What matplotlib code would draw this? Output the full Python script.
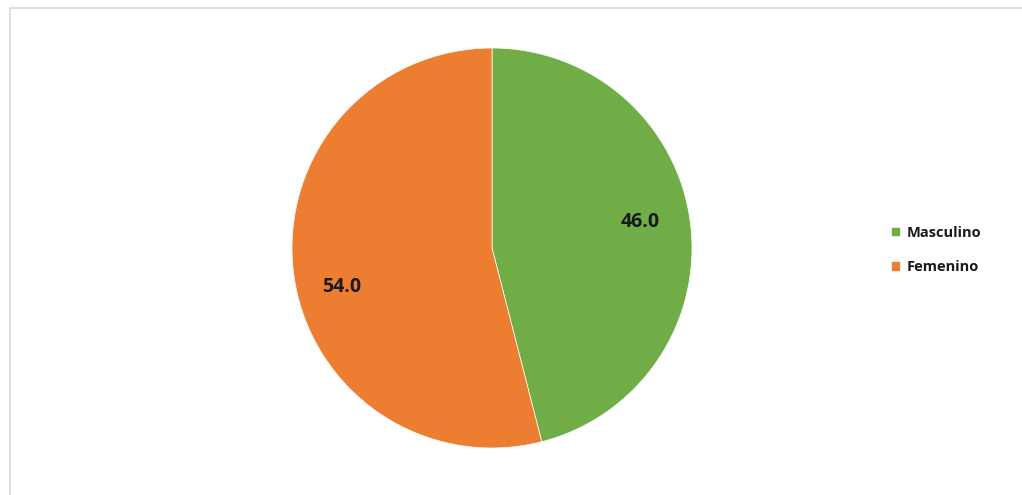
import matplotlib.pyplot as plt
from matplotlib.patches import Rectangle

# Data
labels = ["Masculino", "Femenino"]
values = [46.0, 54.0]
colors = ["#70AD47", "#ED7D31"]

fig = plt.figure(figsize=(10.22, 4.95), dpi=100)
plt.rcParams['font.family'] = ['Open Sans', 'DejaVu Sans']

# light chart border (top and left visible)
fig.patches.append(Rectangle((10 / 1022, -0.05), 1.1, (495 - 8) / 495 + 0.05,
                             transform=fig.transFigure, fill=False,
                             edgecolor="#d9d9d9", linewidth=1.2))

# pie axes: center (492, 248), radius 200 px
ax = fig.add_axes([(492 - 200) / 1022, (495 - 248 - 200) / 495, 400 / 1022, 400 / 495])
wedges, texts, autotexts = ax.pie(values, colors=colors, startangle=90, counterclock=False,
                                  autopct="%.1f", pctdistance=0.75,
                                  wedgeprops=dict(edgecolor="white", linewidth=0.5),
                                  textprops=dict(fontsize=14, fontweight="bold", color="#1a1a1a"))
ax.set_aspect("equal")
ax.set_xlim(-1, 1)
ax.set_ylim(-1, 1)

# nudge labels to match the original placement
autotexts[0].set_position((0.74, 0.13))
autotexts[1].set_position((-0.75, -0.195))

fig.legend(wedges, labels, loc="center left", bbox_to_anchor=(878 / 1022, 1 - 250 / 495),
           frameon=False, handlelength=0.6, handleheight=0.6,
           handletextpad=0.45, labelspacing=1.4,
           prop=dict(size=10.5, weight="bold"), labelcolor="#1a1a1a")

plt.savefig("out.png", dpi=100)
